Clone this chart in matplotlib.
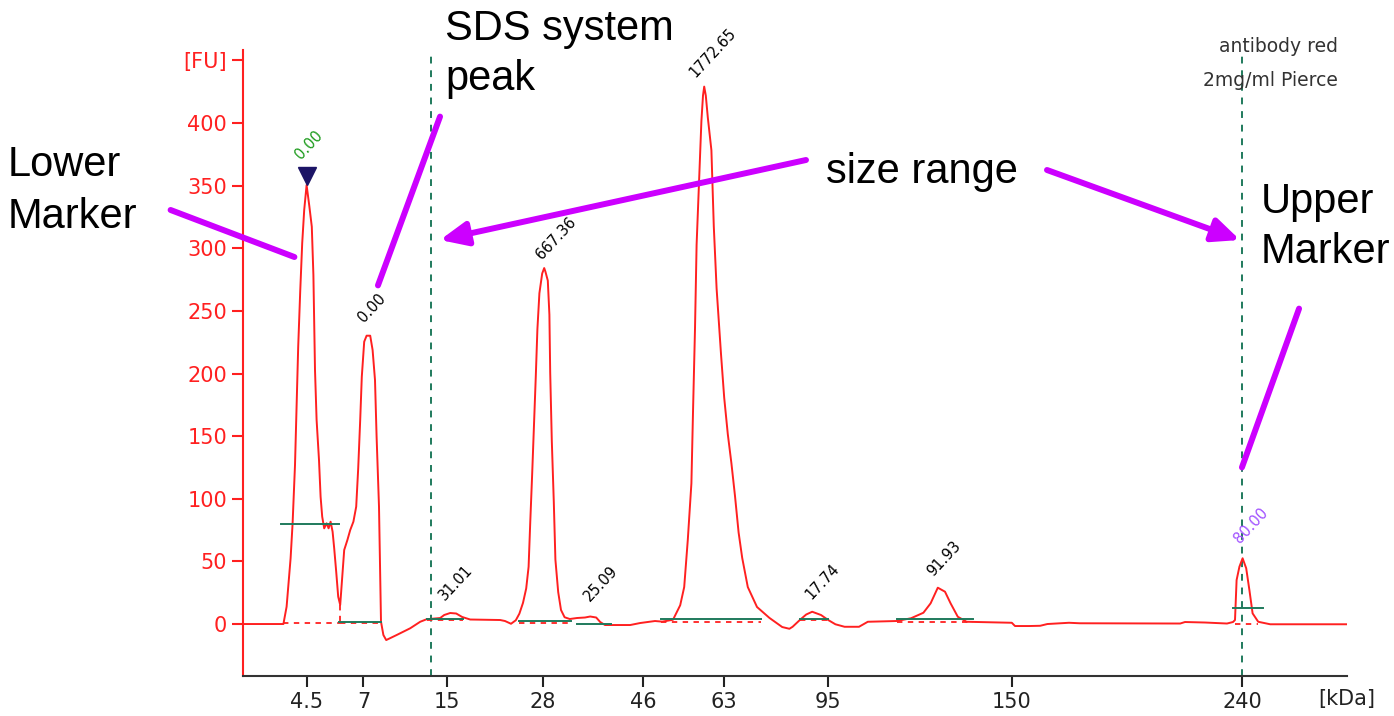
import matplotlib.pyplot as plt
from matplotlib.patches import FancyArrowPatch

# electropherogram trace: migration time (s) and fluorescence (FU)
time_s = [15.0, 16.01, 16.09, 16.19, 16.24, 16.30, 16.34, 16.38, 16.43, 16.48, 16.53, 16.59,
          16.66, 16.72, 16.76, 16.80, 16.84, 16.90, 16.94, 16.98, 17.03, 17.09, 17.14, 17.19,
          17.24, 17.28, 17.33, 17.38, 17.43, 17.47, 17.53, 17.61, 17.68, 17.76, 17.83, 17.88,
          17.93, 17.97, 18.03, 18.09, 18.18, 18.24, 18.30, 18.34, 18.40, 18.43, 18.45, 18.51,
          18.58, 18.84, 19.18, 19.43, 19.59, 19.93, 20.03, 20.18, 20.33, 20.48, 20.68, 21.43,
          21.55, 21.70, 21.82, 21.91, 22.00, 22.08, 22.14, 22.18, 22.23, 22.27, 22.32, 22.36,
          22.41, 22.48, 22.53, 22.56, 22.62, 22.66, 22.68, 22.72, 22.77, 22.81, 22.88, 22.95,
          23.04, 23.17, 23.35, 23.55, 23.68, 23.83, 23.93, 24.05, 24.68, 24.93, 25.30, 25.48,
          25.75, 25.93, 26.03, 26.12, 26.21, 26.25, 26.30, 26.34, 26.41, 26.46, 26.50, 26.53,
          26.57, 26.62, 26.71, 26.77, 26.84, 26.95, 27.03, 27.12, 27.21, 27.30, 27.39, 27.48,
          27.62, 27.85, 28.16, 28.48, 28.66, 28.74, 28.92, 29.08, 29.23, 29.45, 29.63, 29.81,
          30.04, 30.40, 30.62, 31.34, 31.70, 32.01, 32.19, 32.37, 32.55, 32.69, 32.87, 33.09,
          34.22, 34.30, 34.66, 34.93, 35.11, 35.65, 35.92, 38.43, 38.55, 39.05, 39.60, 39.75,
          39.80, 39.84, 39.91, 39.99, 40.08, 40.16, 40.24, 40.38, 40.68, 42.59]
fu = [0, 0, 13.8, 52.5, 80.4, 126.9, 173.5, 221.4, 265.3, 304.0, 330.5, 350.5,
      333.2, 317.2, 278.6, 202.8, 162.9, 130.9, 101.6, 85.7, 76.4, 80.4, 76.4, 81.7,
      73.7, 60.4, 41.8, 21.8, 15.2, 32.5, 59.1, 67.1, 75.0, 81.7, 93.7, 124.3,
      162.9, 197.4, 225.4, 230.2, 230.2, 218.8, 194.8, 149.5, 93.7, 40.5, 1.8, -8.8,
      -12.8, -8.8, -3.4, 1.8, 3.8, 4.8, 7.2, 8.8, 8.4, 5.6, 3.6, 3.2,
      2.4, 0.2, 3.0, 8.3, 16.9, 28.4, 45.7, 80.2, 120.4, 154.9, 198.0, 235.4,
      264.1, 279.9, 284.2, 281.4, 274.2, 246.9, 200.9, 146.3, 97.4, 51.4, 25.5, 11.2,
      5.4, 4.0, 4.8, 5.2, 6.0, 5.2, 1.6, -0.8, -0.8, 0.8, 2.4, 1.9,
      3.4, 15.0, 29.5, 67.3, 112.3, 169.0, 235.8, 302.8, 360.9, 401.5, 421.9, 429.1,
      421.9, 404.5, 378.3, 317.3, 267.9, 215.6, 180.7, 151.6, 128.4, 102.2, 73.1, 52.8,
      29.5, 13.6, 4.9, -2.4, -3.8, -2.2, 3.2, 7.6, 9.8, 7.2, 3.2, -0.2,
      -2.2, -2.2, 1.8, 2.4, 4.6, 9.0, 16.5, 29.0, 25.8, 16.5, 5.8, 1.8,
      1.0, -1.6, -1.6, -1.4, 0, 1.0, 0.6, 0.4, 1.6, 1.2, 0.4, 1.6,
      3.2, 35.1, 45.7, 52.5, 44.5, 27.1, 8.5, 1.8, -0.2, -0.2]

# size ladder ticks (kDa) at their migration times
tick_time = [16.6, 18.01, 20.1, 22.5, 25.0, 27.025, 29.625, 34.225, 39.975]
tick_kda = ['4.5', '7', '15', '28', '46', '63', '95', '150', '240']

# peak integration limits: start, end, level (green) and baseline (red dashed)
peak_start = [15.95, 17.41, 19.61, 21.89, 23.36, 25.46, 28.92, 31.36, 39.74]
peak_end = [17.40, 18.44, 20.50, 23.19, 24.21, 27.96, 29.63, 33.25, 40.51]
peak_level = [80, 1.8, 3.8, 2.6, -0.2, 4.0, 3.8, 3.8, 13.0]
base_start = [16.01, 17.43, 19.61, 21.89, 25.46, 28.92, 31.36, 39.80]
base_end = [17.43, 18.45, 20.50, 23.19, 27.96, 29.63, 33.25, 40.38]
base_level = [0.6, 1.0, 3.0, 0.6, 1.8, 3.0, 2.0, 0.0]

# peak labels (concentration) and where they sit
label_text = ['0.00', '0.00', '31.01', '667.36', '25.09', '1772.65', '17.74', '91.93', '80.00']
label_time = [16.50, 18.08, 20.10, 22.52, 23.72, 26.37, 29.27, 32.32, 39.97]
label_fu = [369, 239, 16.8, 289, 16, 434, 17.6, 36, 62]
label_color = ['#1a9a1a', 'black', 'black', 'black', 'black', 'black', 'black', 'black', '#a050ff']

size_range = [19.7, 39.975]
lower_marker = (16.59, 358)

W, H = 1394, 716
fig = plt.figure(figsize=(W / 100, H / 100), dpi=100)
ax = fig.add_axes([243 / W, 1 - 676 / H, (1347 - 243) / W, (676 - 50) / H])

red = '#ff2020'
green = '#1f7a5c'

ax.plot(time_s, fu, color=red, lw=1.4, zorder=3)
for a, b, lv in zip(peak_start, peak_end, peak_level):
    ax.plot([a, b], [lv, lv], color=green, lw=1.4, zorder=4)
for a, b, lv in zip(base_start, base_end, base_level):
    ax.plot([a, b], [lv, lv], color=red, lw=1.3, ls=(0, (3, 3)), zorder=2)
ax.plot([17.43, 17.43], [15.2, 0.6], color=red, lw=1.3, ls=(0, (3, 3)), zorder=2)
for x in size_range:
    ax.axvline(x, color=green, lw=1.4, ls=(0, (3.5, 3.5)), zorder=1)
ax.plot(*lower_marker, marker='v', color='#1c1466', markersize=13, zorder=5)

for s, t, v, c in zip(label_text, label_time, label_fu, label_color):
    ax.text(t, v, s, color=c, fontsize=10.5, rotation=47, rotation_mode='anchor',
            ha='left', va='bottom', zorder=6)

ax.set_xlim(15, 42.6)
ax.set_ylim(-41.5, 458.3)
ax.set_xticks(tick_time)
ax.set_xticklabels(tick_kda)
ax.set_yticks(range(0, 451, 50))
ax.set_yticklabels([str(v) for v in range(0, 401, 50)] + ['[FU]'])
ax.spines['right'].set_visible(False)
ax.spines['top'].set_visible(False)
ax.spines['left'].set_color(red)
ax.spines['left'].set_linewidth(1.5)
ax.spines['bottom'].set_color('#333333')
ax.spines['bottom'].set_linewidth(1.5)
ax.tick_params(axis='y', colors=red, labelsize=15, length=8, width=1.5)
ax.tick_params(axis='x', colors='#222222', labelsize=15, length=8, width=1.5)
ax.annotate('[kDa]', xy=(1, 0), xycoords='axes fraction', xytext=(0, -9.5),
            textcoords='offset points', ha='center', va='top', fontsize=15, color='#222222')

ax.text(1338 / W, 1 - 47 / H, 'antibody red', transform=fig.transFigure, ha='right',
        va='center', fontsize=13.5, color='#333333')
ax.text(1338 / W, 1 - 80 / H, '2mg/ml Pierce', transform=fig.transFigure, ha='right',
        va='center', fontsize=13.5, color='#333333')

# callouts
def fpt(px, py):
    return (px / W, 1 - py / H)

big = dict(fontsize=30, family='Liberation Sans', color='black', va='baseline', ha='left')
fig.text(*fpt(8, 176), 'Lower', **big)
fig.text(*fpt(8, 228), 'Marker', **big)
fig.text(*fpt(445, 40), 'SDS system', **big)
fig.text(*fpt(445, 90), 'peak', **big)
fig.text(*fpt(826, 183), 'size range', **big)
fig.text(*fpt(1261, 213), 'Upper', **big)
fig.text(*fpt(1261, 263), 'Marker', **big)

purple = '#cc00ff'
for p0, p1 in [((168, 209), (297, 258)), ((441, 114), (377, 288)), ((1300, 306), (1241, 470))]:
    fig.add_artist(FancyArrowPatch(fpt(*p0), fpt(*p1), transform=fig.transFigure,
                                   arrowstyle='-', color=purple, lw=4.3))
for p0, p1 in [((806, 160), (440, 240)), ((1047, 170), (1240, 240))]:
    fig.add_artist(FancyArrowPatch(fpt(*p0), fpt(*p1), transform=fig.transFigure,
                                   arrowstyle='-|>,head_length=0.9,head_width=0.4',
                                   mutation_scale=18, color=purple, lw=4.3,
                                   shrinkA=0, shrinkB=0))

fig.savefig('out.png', dpi=100)
